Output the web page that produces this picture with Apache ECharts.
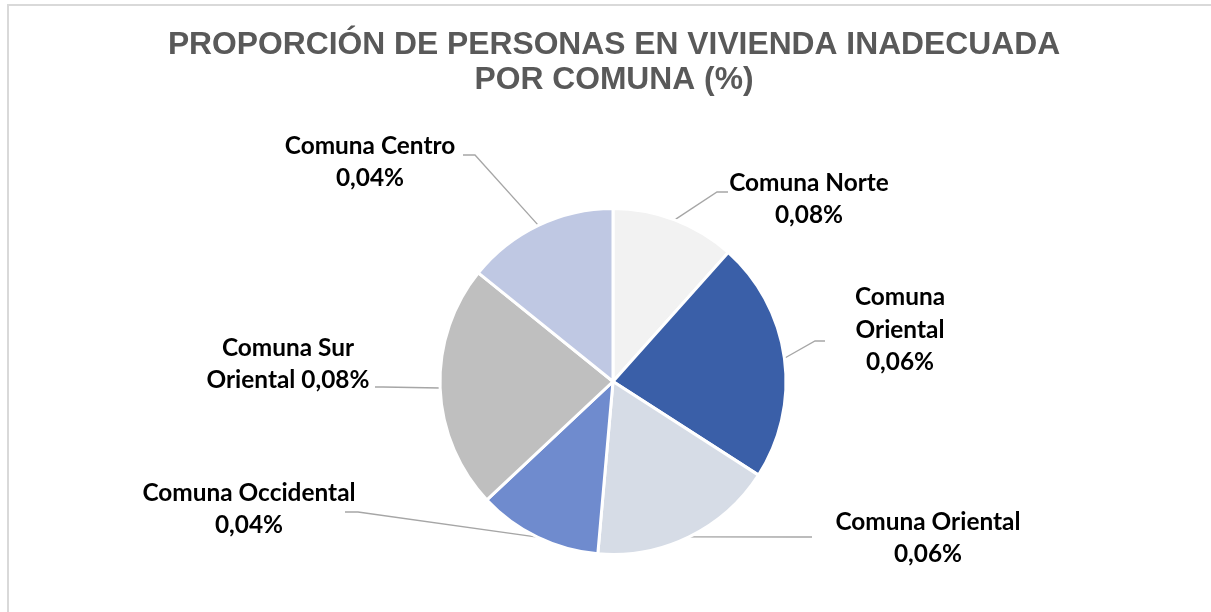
<!DOCTYPE html>
<html>
<head>
<meta charset="utf-8">
<script src="https://cdn.jsdelivr.net/npm/echarts@6/dist/echarts.min.js"></script>
<style>
html, body { margin: 0; padding: 0; background: #fff; }
#main { width: 1211px; height: 612px; }
#frame { position: absolute; left: 7px; top: 4px; right: 0; bottom: 0; border-top: 2px solid #d9d9d9; border-left: 2px solid #d9d9d9; pointer-events: none; }
</style>
</head>
<body>
<div id="main"></div>
<div id="frame"></div>
<script>
// clockwise from 12 o'clock
const comunas = ['Comuna Norte', 'Comuna Oriental', 'Comuna Oriental', 'Comuna Occidental', 'Comuna Sur Oriental', 'Comuna Centro'];
// slice sizes (share of the pie)
const shares = [11.6, 22.5, 17.3, 11.6, 22.8, 14.2];
// labels exactly as printed on the chart
const labelText = [
  'Comuna Norte\n0,08%',
  'Comuna\nOriental\n0,06%',
  'Comuna Oriental\n0,06%',
  'Comuna Occidental\n0,04%',
  'Comuna Sur\nOriental 0,08%',
  'Comuna Centro\n0,04%'
];
const colors = ['#f2f2f2', '#3a5fa8', '#d6dce6', '#6f8bce', '#bfbfbf', '#bfc8e3'];

// where each label sits, and where its leader line meets it
const labelBox = [
  { x: 809, y: 199, lineX: -81, lineY: -7, tail: -11 },
  { x: 900, y: 330, lineX: -75, lineY: 11, tail: -10 },
  { x: 928, y: 538, lineX: -116, lineY: -1, tail: -10 },
  { x: 249, y: 509, lineX: 96, lineY: 3, tail: 13 },
  { x: 288, y: 364, lineX: 87, lineY: 23, tail: 8 },
  { x: 370, y: 162, lineX: 93, lineY: -7, tail: 12 }
];

var myChart = echarts.init(document.getElementById('main'));

var option = {
  animation: false,
  backgroundColor: '#fff',
  title: {
    text: 'PROPORCIÓN DE PERSONAS EN VIVIENDA INADECUADA\nPOR COMUNA (%)',
    left: 614,
    top: 28,
    textAlign: 'center',
    padding: 0,
    textStyle: {
      fontFamily: 'Liberation Sans',
      fontWeight: 'bold',
      fontSize: 31.8,
      color: '#595959',
      lineHeight: 35
    }
  },
  series: [{
    type: 'pie',
    center: [613, 381.5],
    radius: 173,
    startAngle: 90,
    clockwise: true,
    avoidLabelOverlap: false,
    itemStyle: { borderColor: '#fff', borderWidth: 3 },
    emphasis: { disabled: true },
    label: {
      show: true,
      position: 'outside',
      formatter: function (p) { return labelText[p.dataIndex]; },
      fontFamily: 'Lato',
      fontWeight: 'bold',
      fontSize: 24.4,
      lineHeight: 32.5,
      color: '#000',
      width: 260,
      overflow: 'none',
      align: 'center'
    },
    labelLine: {
      show: true,
      length: 10,
      length2: 10,
      lineStyle: { color: '#a6a6a6', width: 1.3 }
    },
    labelLayout: function (p) {
      const b = labelBox[p.dataIndex];
      const res = { x: b.x, y: b.y, align: 'center', verticalAlign: 'middle' };
      if (p.labelLinePoints) {
        const start = p.labelLinePoints[0];
        const end = [b.x + b.lineX, b.y + b.lineY];
        res.labelLinePoints = [start, [end[0] + b.tail, end[1]], end];
      }
      return res;
    },
    data: comunas.map(function (name, i) {
      return { name: name, value: shares[i], itemStyle: { color: colors[i] } };
    })
  }]
};

myChart.setOption(option);
</script>
</body>
</html>
